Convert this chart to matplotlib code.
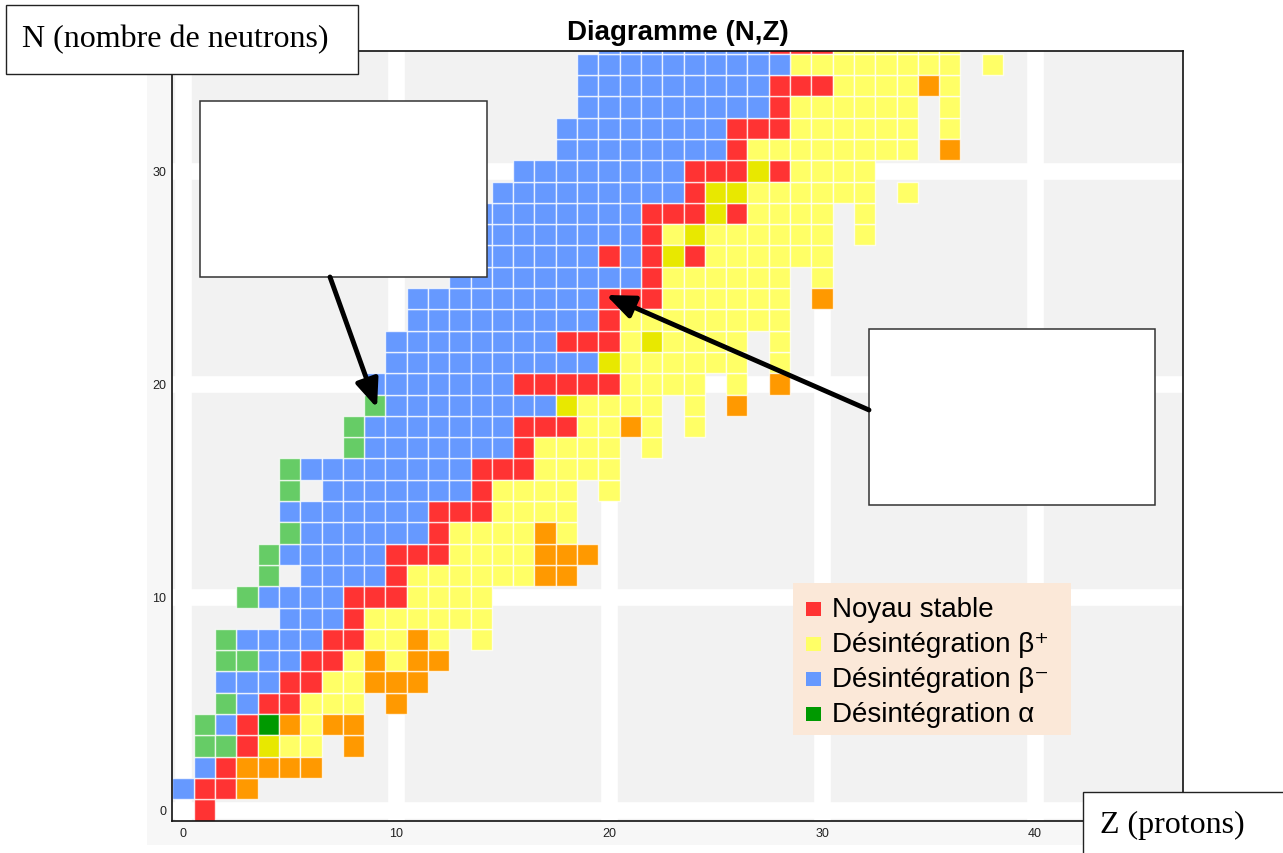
import numpy as np
import matplotlib
matplotlib.use('Agg')
import matplotlib.pyplot as plt
from matplotlib.patches import Rectangle, FancyArrowPatch

# carte des noyaux : une ligne par N, codes lus colonne par colonne a partir de Z = row_z0
# S stable, + beta+, - beta-, a alpha, n vert clair, p orange, e jaune fonce, . vide
row_n = list(range(37))
row_z0 = [1, 0, 1, 1, 1, 2, 2, 2, 2, 5, 3, 4, 4, 5, 5, 5, 5, 8, 8,
          9, 9, 10, 10, 11, 11, 13, 13, 13, 14, 15, 16, 18, 18, 19, 19, 19, 20]
row_codes = [
    "S",
    "-SSp",
    "-Spppp",
    "nnSe++.p",
    "n-Sap+pp",
    "n-SS+++.p",
    "---SS++ppp",
    "nn--SS+p+pp",
    "n----SS++p+.+",
    "---S++++++",
    "n----SSS++++",
    "n.----S++++++pp",
    "n-----SSS++++ppp",
    "n------S++++p+",
    "-------SSS++++",
    "n.-------S++++.+",
    "n--------SSS++++",
    "n-------S++++.+",
    "n-------SSS++p+.+",
    "n--------e++++.+.p",
    "-------SSSSS++++.+.p",
    "----------e++++++.+",
    "--------SSS+e++++.+",
    "---------S++++++++",
    "---------SSS++++++.p",
    "---------S++++++.+",
    "-------S-SeS++++++",
    "---------S+e++++++.+",
    "--------SSSeS++++.+",
    "---------See++++++.+",
    "--------SSSeS++++",
    "--------S++++++++.p",
    "--------SSS++++++.+",
    "---------S++++++.+",
    "---------SSS++++p+",
    "----------++++++++.+",
    "--------SSS++++++",
]

codes = ['S', '+', '-', 'a', 'n', 'p', 'e']
colors = ['#ff3333', '#ffff66', '#6699ff', '#009900', '#66cc66', '#ff9900', '#e8e800']

legend_labels = ['Noyau stable', 'Désintégration β⁺', 'Désintégration β⁻', 'Désintégration α']
legend_colors = ['#ff3333', '#ffff66', '#6699ff', '#009900']

plt.rcParams['font.family'] = ['Liberation Sans', 'DejaVu Sans']

W, H = 1283, 854
fig = plt.figure(figsize=(W / 100, H / 100), dpi=100)

def fx(x):
    return x / W

def fy(y):
    return 1 - y / H

def box(x0, y0, x1, y1, **kw):
    r = Rectangle((fx(x0), fy(y1)), (x1 - x0) / W, (y1 - y0) / H,
                  transform=fig.transFigure, **kw)
    fig.add_artist(r)
    return r

# fond gris clair de la capture
box(147, 52, 1183, 846, facecolor='#f7f7f7', edgecolor='none', zorder=-1)

ax = fig.add_axes([172 / W, 1 - 822 / H, (1183 - 172) / W, (822 - 52) / H])
ax.set_facecolor('#f2f2f2')

for code, color in zip(codes, colors):
    zs = []
    ns = []
    for n, z0, s in zip(row_n, row_z0, row_codes):
        for i, c in enumerate(s):
            if c == code:
                zs.append(z0 + i)
                ns.append(n)
    ax.bar(zs, 1, width=1, bottom=np.array(ns) - 0.5, color=color,
           edgecolor=(1, 1, 1, 0.75), linewidth=1.0, zorder=2)

ax.set_xlim(-0.52, 46.95)
ax.set_ylim(-0.52, 35.63)
ax.set_xticks([0, 10, 20, 30, 40])
ax.set_yticks([0, 10, 20, 30])
ax.grid(True, color='white', linewidth=12)
ax.set_axisbelow(True)
ax.tick_params(length=0, labelsize=9, pad=4, colors='#222222')
for sp in ax.spines.values():
    sp.set_color('#111111')
    sp.set_linewidth(1.2)
ax.set_title('Diagramme (N,Z)', fontsize=20, fontweight='bold', pad=9)

# legende (coupee en bas comme sur la capture)
box(793, 584, 1071, 736, facecolor='#fbe8d8', edgecolor='none', zorder=2)
for i, (lab, col) in enumerate(zip(legend_labels, legend_colors)):
    base = 617 + 35 * i
    box(806, base - 14, 821, base, facecolor=col, edgecolor='none', zorder=3)
    fig.text(fx(832), fy(base), lab, fontsize=20, va='baseline', ha='left', zorder=4)

# cadres vides et fleches
box(200, 102, 487, 278, facecolor='white', edgecolor='#333333', linewidth=1.1, zorder=4)
box(869, 330, 1155, 506, facecolor='white', edgecolor='#333333', linewidth=1.1, zorder=4)

for (xa, ya), (xb, yb) in [((330, 278), (377, 409)), ((869, 411), (606, 296))]:
    arr = FancyArrowPatch((fx(xa), fy(ya)), (fx(xb), fy(yb)), transform=fig.transFigure,
                          arrowstyle='-|>,head_length=17,head_width=7', mutation_scale=1,
                          linewidth=3.5, color='black', shrinkA=0, shrinkB=0, zorder=5)
    fig.add_artist(arr)

# etiquettes des axes dans des cadres
box(6, 6, 358, 75, facecolor='white', edgecolor='#222222', linewidth=1.0, zorder=6)
fig.text(fx(22), fy(47), 'N (nombre de neutrons)', fontsize=23,
         family=['Liberation Serif', 'DejaVu Serif'], va='baseline', zorder=7)
box(1083, 793, 1290, 860, facecolor='white', edgecolor='#222222', linewidth=1.0, zorder=6)
fig.text(fx(1100), fy(833), 'Z (protons)', fontsize=23,
         family=['Liberation Serif', 'DejaVu Serif'], va='baseline', zorder=7)

fig.savefig('out.png', dpi=100)
